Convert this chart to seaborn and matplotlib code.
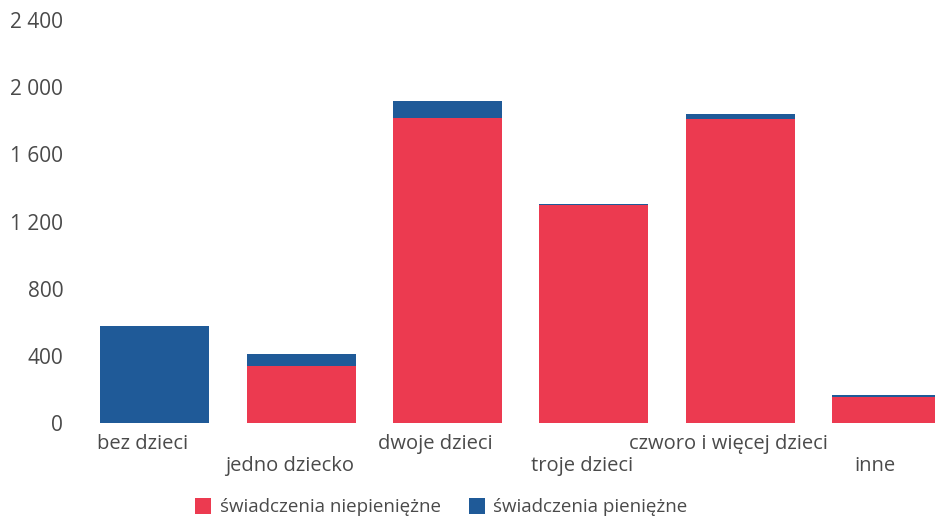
import matplotlib
matplotlib.use("Agg")
import matplotlib.pyplot as plt
import matplotlib.transforms as mtransforms
import seaborn as sns
import pandas as pd
from matplotlib.patches import Patch
from matplotlib.ticker import FuncFormatter

categories = ["bez dzieci", "jedno dziecko", "dwoje dzieci", "troje dzieci",
              "czworo i więcej dzieci", "inne"]
niepieniezne = [0, 341, 1818, 1300, 1812, 157]
pieniezne = [580, 68, 102, 4, 28, 10]
series_names = ["świadczenia niepieniężne", "świadczenia pieniężne"]
yticks = [0, 400, 800, 1200, 1600, 2000, 2400]

RED = "#EC3A50"
BLUE = "#1F5A98"
TXT = "#4a4a4a"

sns.set_theme(style="white")
plt.rcParams["font.family"] = ["Open Sans", "DejaVu Sans"]

df = pd.DataFrame({
    "cat": categories,
    "red": niepieniezne,
    "total": [a + b for a, b in zip(niepieniezne, pieniezne)],
})

fig = plt.figure(figsize=(9.35, 5.24), dpi=100)
ax = fig.add_axes([0.0856, 0.1927, 0.9144, 0.7691])

sns.barplot(data=df, x="cat", y="total", color=BLUE, saturation=1, width=0.744,
            linewidth=0, edgecolor="none", ax=ax)
sns.barplot(data=df, x="cat", y="red", color=RED, saturation=1, width=0.744,
            linewidth=0, edgecolor="none", ax=ax)

ax.set_xlim(-0.51, 5.33)
ax.set_ylim(0, 2400)
ax.set_yticks(yticks)
ax.yaxis.set_major_formatter(FuncFormatter(lambda v, p: f"{int(v):,}".replace(",", " ")))
ax.set_xlabel("")
ax.set_ylabel("")
for s in ax.spines.values():
    s.set_visible(False)

labels = [c if i % 2 == 0 else "\n" + c for i, c in enumerate(categories)]
ax.set_xticks(range(len(categories)))
ax.set_xticklabels(labels, fontsize=14.5, color=TXT, linespacing=1.12)
ax.tick_params(axis="x", length=0, pad=8)
ax.tick_params(axis="y", length=0, pad=12, labelsize=15, labelcolor=TXT)
offset = mtransforms.ScaledTranslation(-12 / 100, 0, fig.dpi_scale_trans)
for lbl in ax.get_xticklabels():
    lbl.set_horizontalalignment("center")
    lbl.set_transform(lbl.get_transform() + offset)

handles = [Patch(facecolor=RED, edgecolor="none"), Patch(facecolor=BLUE, edgecolor="none")]
fig.legend(handles, series_names, loc="center", bbox_to_anchor=(0.472, 0.032), ncol=2,
           frameon=False, fontsize=13.5, labelcolor=TXT, handlelength=0.85,
           handleheight=0.9, handletextpad=0.45, columnspacing=1.5)

fig.savefig("out.png", dpi=100)
